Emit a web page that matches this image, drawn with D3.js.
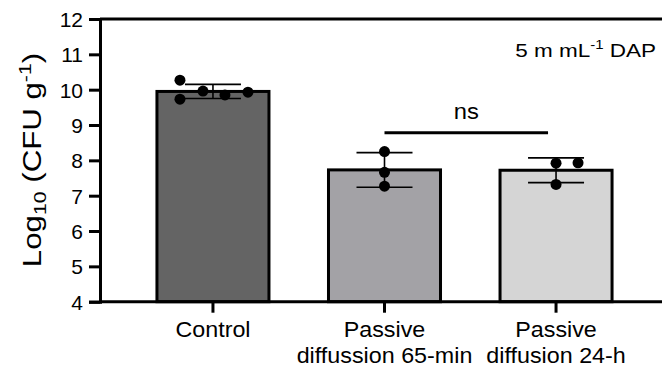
<!DOCTYPE html>
<html>
<head>
<meta charset="utf-8">
<script src="https://cdn.jsdelivr.net/npm/d3@7"></script>
<style>
  body { margin: 0; background: #fff; }
  text { font-family: "Liberation Sans", Arial, sans-serif; fill: #000; }
</style>
</head>
<body>
<div id="chart"></div>
<script>
// DATA
const groups = ["Control", "Passive diffussion 65-min", "Passive diffusion 24-h"];
const groupLines = [["Control"], ["Passive", "diffussion 65-min"], ["Passive", "diffusion 24-h"]];
const means = [9.95, 7.73, 7.72];
const sds = [0.2, 0.49, 0.35];
const points = [
  [10.27, 9.73, 9.96, 9.85, 9.93],
  [8.25, 7.66, 7.27],
  [7.92, 7.93, 7.32]
];
const yTicks = [4, 5, 6, 7, 8, 9, 10, 11, 12];
const colors = ["#646464", "#a3a2a6", "#d5d5d5"];

const WIDTH = 662, HEIGHT = 372;

// CANVAS
const svg = d3
  .select("#chart")
  .append("svg")
  .attr("width", WIDTH)
  .attr("height", HEIGHT);

// SCALE
const x = d3.scaleBand().domain(groups).range([100, 669]).paddingInner(0.347).paddingOuter(0.332);
const y = d3.scaleLinear().domain([4, 12]).range([301.7, 19]);

// frame top
svg.append("line")
  .attr("x1", 100).attr("x2", WIDTH)
  .attr("y1", y(12)).attr("y2", y(12))
  .attr("stroke", "#000").attr("stroke-width", 3);

// BARS
svg.selectAll("rect.bar")
  .data(groups)
  .enter()
  .append("rect")
  .attr("class", "bar")
  .attr("x", (d) => x(d))
  .attr("y", (d, i) => y(means[i]))
  .attr("width", x.bandwidth())
  .attr("height", (d, i) => y(4) - y(means[i]))
  .attr("fill", (d, i) => colors[i])
  .attr("stroke", "#000")
  .attr("stroke-width", 3);

// AXIS
svg.append("g")
  .attr("transform", "translate(100,0)")
  .call(d3.axisLeft(y).tickValues(yTicks).tickSize(11).tickPadding(6))
  .call((g) => {
    g.select(".domain").attr("stroke-width", 3);
    g.selectAll(".tick line").attr("stroke-width", 3);
    g.selectAll(".tick text")
      .attr("font-size", "21px")
      .attr("dy", "0.36em")
      .attr("font-family", "Liberation Sans, Arial, sans-serif");
  });

svg.append("g")
  .attr("transform", `translate(0,${y(4)})`)
  .call(d3.axisBottom(x).tickSize(11).tickFormat(""))
  .call((g) => {
    g.select(".domain").remove();
    g.selectAll(".tick line").attr("stroke-width", 3);
  });
svg.append("line")
  .attr("x1", 100).attr("x2", WIDTH)
  .attr("y1", y(4)).attr("y2", y(4))
  .attr("stroke", "#000").attr("stroke-width", 3);

// x labels (slightly widened glyphs like the original)
groups.forEach((g, i) => {
  const t = svg.append("text")
    .attr("text-anchor", "middle")
    .attr("font-size", "22px")
    .attr("transform", `translate(${x(g) + x.bandwidth() / 2},337) scale(1.06,1)`);
  groupLines[i].forEach((line, j) => {
    t.append("tspan")
      .attr("x", 0)
      .attr("dy", j === 0 ? 0 : 26)
      .text(line);
  });
});

// ERROR BARS
const cap = 28;
groups.forEach((g, i) => {
  const cx = x(g) + x.bandwidth() / 2;
  const eb = svg.append("g").attr("stroke", "#000").attr("stroke-width", 1.6);
  eb.append("line").attr("x1", cx).attr("x2", cx)
    .attr("y1", y(means[i] + sds[i])).attr("y2", y(means[i] - sds[i]));
  [means[i] + sds[i], means[i] - sds[i]].forEach((v) => {
    eb.append("line").attr("x1", cx - cap).attr("x2", cx + cap)
      .attr("y1", y(v)).attr("y2", y(v));
  });
});

// POINTS (scatter columns, pixel dodge)
const dodge = [[-33, -33, -10, 12, 35], [0, 0, 0], [0, 22, 0]];
groups.forEach((g, i) => {
  const cx = x(g) + x.bandwidth() / 2;
  svg.selectAll(null)
    .data(points[i])
    .enter()
    .append("circle")
    .attr("cx", (d, j) => cx + dodge[i][j])
    .attr("cy", (d) => y(d))
    .attr("r", 5.5)
    .attr("fill", "#000");
});

// SIGNIFICANCE
const c2 = x(groups[1]) + x.bandwidth() / 2;
const c3 = x(groups[2]) + x.bandwidth() / 2;
svg.append("line")
  .attr("x1", c2).attr("x2", c3 - 8)
  .attr("y1", 132.7).attr("y2", 132.7)
  .attr("stroke", "#000").attr("stroke-width", 3);
svg.append("text")
  .attr("transform", `translate(${(c2 + c3 - 8) / 2},119) scale(1.08,1)`)
  .attr("text-anchor", "middle")
  .attr("font-size", "22px")
  .text("ns");

// annotation
const ann = svg.append("text")
  .attr("transform", "translate(656,56.5) scale(1.25,1)")
  .attr("text-anchor", "end")
  .attr("font-size", "18px");
ann.append("tspan").text("5 m mL");
ann.append("tspan").attr("font-size", "12px").attr("dy", -8).text("-1");
ann.append("tspan").attr("dy", 8).text(" DAP");

// Y LABEL
const yl = svg.append("text")
  .attr("transform", "translate(41,160) rotate(-90) scale(1.25,1)")
  .attr("text-anchor", "middle")
  .attr("font-size", "25px");
yl.append("tspan").text("Log");
yl.append("tspan").attr("font-size", "17px").attr("dy", 5).text("10");
yl.append("tspan").attr("dy", -5).text(" (CFU g");
yl.append("tspan").attr("font-size", "17px").attr("dy", -10).text("-1");
yl.append("tspan").attr("dy", 10).text(")");
</script>
</body>
</html>
